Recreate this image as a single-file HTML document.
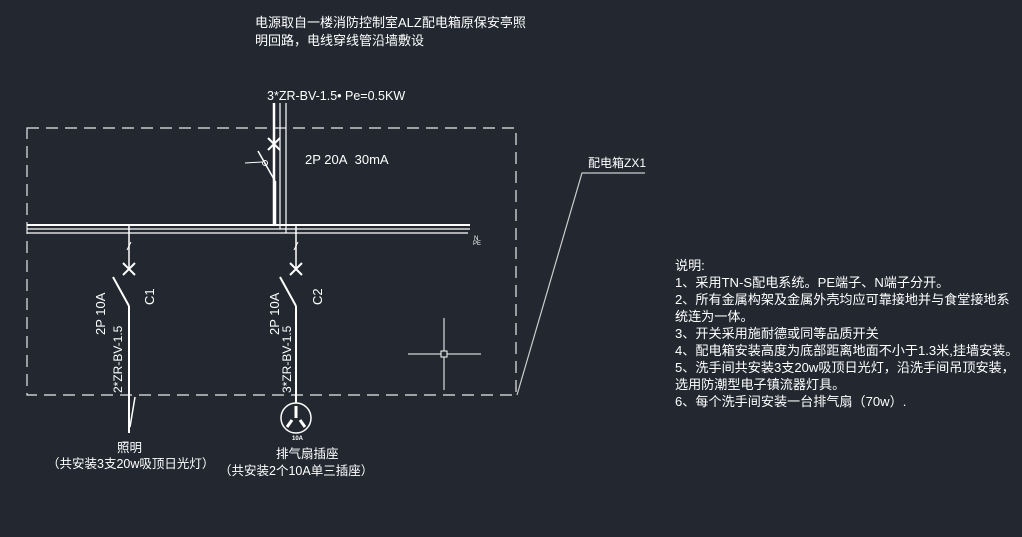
<!DOCTYPE html>
<html><head><meta charset="utf-8"><style>
html,body{margin:0;padding:0;background:#222730;}
svg{display:block}
text{font-family:"Liberation Sans","Noto Sans CJK SC",sans-serif;fill:#fff}
</style></head><body>
<svg width="1022" height="537" viewBox="0 0 1022 537" xmlns="http://www.w3.org/2000/svg">
<rect width="1022" height="537" fill="#222730"/>
<g font-size="13">
<text x="255" y="27">电源取自一楼消防控制室ALZ配电箱原保安亭照</text>
<text x="255" y="45">明回路，电线穿线管沿墙敷设</text>
</g>
<text x="267" y="100" font-size="12.5">3*ZR-BV-1.5• Pe=0.5KW</text>
<text x="305" y="164" font-size="13">2P 20A&#160;&#160;30mA</text>
<path d="M27 128 H516 V395 H27 Z" fill="none" stroke="#e8e8e8" stroke-width="1.2" stroke-dasharray="12 7"/>
<g stroke="#fff" fill="none">
<line x1="274" y1="103" x2="274" y2="225" stroke-width="2.5"/>
<line x1="280" y1="103" x2="280" y2="229" stroke-width="1.2"/>
<line x1="286" y1="103" x2="286" y2="233" stroke-width="1.2"/>
<path d="M268 138 L280 150 M280 138 L268 150" stroke-width="2"/>
<line x1="258" y1="151" x2="275" y2="181" stroke-width="1.5"/>
<line x1="275" y1="181" x2="275" y2="225" stroke-width="2.5"/>
<circle cx="265" cy="163" r="2.5" stroke-width="1"/>
<line x1="245" y1="163" x2="262" y2="162" stroke-width="1"/>
<line x1="27" y1="225" x2="470" y2="225" stroke-width="2"/>
<line x1="27" y1="229" x2="470" y2="229" stroke-width="1.2"/>
<line x1="27" y1="233" x2="468" y2="233" stroke-width="1.2"/>
<line x1="129" y1="225" x2="129" y2="268" stroke-width="1.5"/>
<line x1="131" y1="242" x2="127" y2="250" stroke-width="1"/>
<path d="M123 263 L135 275 M135 263 L123 275" stroke-width="2"/>
<line x1="113" y1="277" x2="129" y2="306" stroke-width="2"/>
<line x1="129" y1="306" x2="129" y2="433" stroke-width="2"/>
<line x1="135" y1="397" x2="130" y2="427" stroke-width="1.5"/>
<line x1="296" y1="225" x2="296" y2="268" stroke-width="1.5"/>
<line x1="298" y1="242" x2="294" y2="250" stroke-width="1"/>
<path d="M290 263 L302 275 M302 263 L290 275" stroke-width="2"/>
<line x1="280" y1="277" x2="296" y2="306" stroke-width="2"/>
<line x1="296" y1="306" x2="296" y2="403" stroke-width="2"/>
<circle cx="296" cy="418" r="15" stroke-width="1.5"/>
<line x1="296" y1="406" x2="296" y2="418" stroke-width="3"/>
<line x1="287" y1="427" x2="292" y2="420" stroke-width="3"/>
<line x1="305" y1="427" x2="300" y2="420" stroke-width="3"/>
<line x1="408" y1="354" x2="481" y2="354" stroke-width="1"/>
<line x1="444" y1="318" x2="444" y2="390" stroke-width="1"/>
<rect x="441" y="351" width="6" height="6" stroke-width="1" fill="#222730"/>
<polyline points="517,395 582,173 645,173" stroke="#ccc" stroke-width="1.2"/>
</g>
<text x="474" y="240" font-size="6">N</text>
<text x="473" y="245" font-size="6">PE</text>
<text x="588" y="167" font-size="12">配电箱ZX1</text>
<g font-size="13">
<text transform="translate(105,335) rotate(-90)">2P 10A</text>
<text transform="translate(154,305) rotate(-90)">C1</text>
<text transform="translate(122,393) rotate(-90)" font-size="12">2*ZR-BV-1.5</text>
<text transform="translate(279,335) rotate(-90)">2P 10A</text>
<text transform="translate(322,305) rotate(-90)">C2</text>
<text transform="translate(291,393) rotate(-90)" font-size="12">3*ZR-BV-1.5</text>
</g>
<text x="292" y="440" font-size="6" font-weight="bold">10A</text>
<g font-size="12.5">
<text x="117" y="452">照明</text>
<text x="47" y="468">（共安装3支20w吸顶日光灯）</text>
<text x="276" y="458">排气扇插座</text>
<text x="219" y="475">（共安装2个10A单三插座）</text>
</g>
<g font-size="13.1">
<text x="675" y="270">说明:</text>
<text x="675" y="287">1、采用TN-S配电系统。PE端子、N端子分开。</text>
<text x="675" y="304">2、所有金属构架及金属外壳均应可靠接地并与食堂接地系</text>
<text x="675" y="321">统连为一体。</text>
<text x="675" y="338">3、开关采用施耐德或同等品质开关</text>
<text x="675" y="355">4、配电箱安装高度为底部距离地面不小于1.3米,挂墙安装。</text>
<text x="675" y="372">5、洗手间共安装3支20w吸顶日光灯，沿洗手间吊顶安装，</text>
<text x="675" y="389">选用防潮型电子镇流器灯具。</text>
<text x="675" y="406">6、每个洗手间安装一台排气扇（70w）.</text>
</g>
</svg>
</body></html>
